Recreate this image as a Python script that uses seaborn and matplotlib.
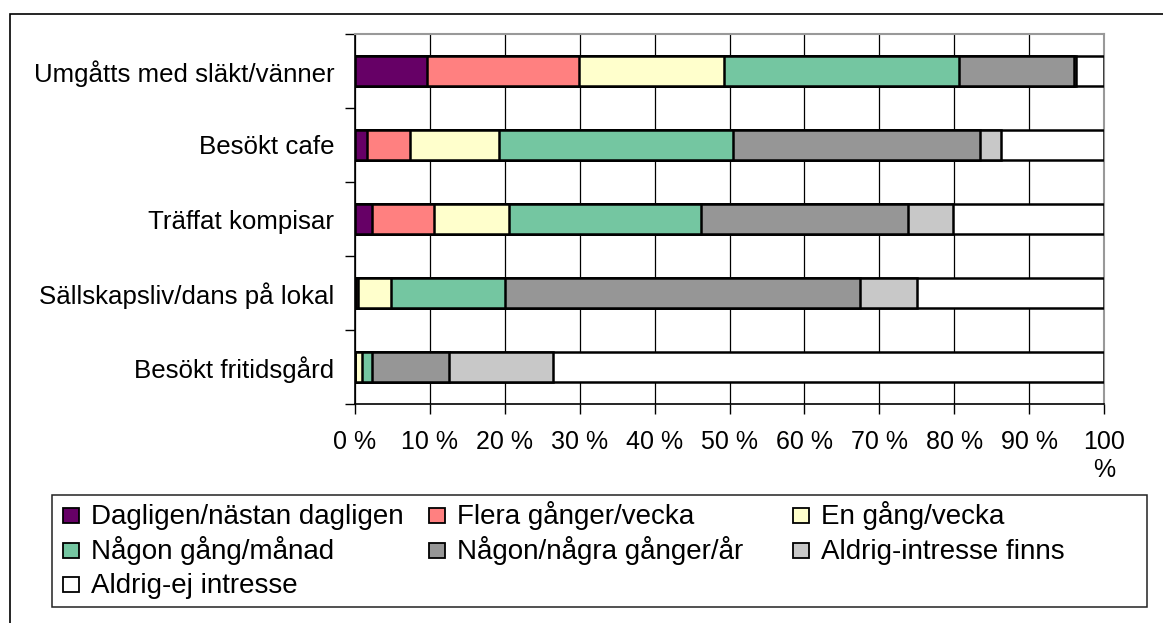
import matplotlib.pyplot as plt
import numpy as np
import pandas as pd
import seaborn as sns
from matplotlib.patches import Rectangle

# Data (percent of respondents)
activities = [
    "Umgåtts med släkt/vänner",
    "Besökt cafe",
    "Träffat kompisar",
    "Sällskapsliv/dans på lokal",
    "Besökt fritidsgård",
]
answers = [
    "Dagligen/nästan dagligen",
    "Flera gånger/vecka",
    "En gång/vecka",
    "Någon gång/månad",
    "Någon/några gånger/år",
    "Aldrig-intresse finns",
    "Aldrig-ej intresse",
]
dagligen = [9.6, 1.6, 2.3, 0.2, 0.0]
flera_vecka = [20.3, 5.8, 8.3, 0.2, 0.0]
en_vecka = [19.3, 11.8, 9.9, 4.4, 0.9]
gang_manad = [31.5, 31.3, 25.7, 15.2, 1.4]
gang_ar = [15.3, 32.9, 27.6, 47.4, 10.2]
aldrig_intresse = [0.2, 2.9, 6.1, 7.7, 13.9]
aldrig_ej = [3.8, 13.7, 20.1, 24.9, 73.6]

x_ticks = [0, 10, 20, 30, 40, 50, 60, 70, 80, 90, 100]
x_labels = ["0 %", "10 %", "20 %", "30 %", "40 %", "50 %", "60 %",
            "70 %", "80 %", "90 %", "100\n%"]

colors = ["#660066", "#FF8080", "#FFFFCC", "#74C6A1", "#969696", "#C8C8C8", "#FFFFFF"]

series = [dagligen, flera_vecka, en_vecka, gang_manad, gang_ar, aldrig_intresse, aldrig_ej]
df = pd.DataFrame(np.array(series).T, index=activities, columns=answers)
cum = df.cumsum(axis=1)
# normalise to 100 so the last segment ends on the axis edge
cum = cum.div(cum.iloc[:, -1], axis=0) * 100

W, H = 1163, 623
FS = 18

sns.set_theme(style="white")
plt.rcParams["font.family"] = ["Liberation Sans", "DejaVu Sans"]
plt.rcParams["font.size"] = FS
plt.rcParams["text.color"] = "black"

fig = plt.figure(figsize=(W / 100, H / 100), dpi=100)
ax = fig.add_axes([355 / W, 1 - 404 / H, (1104 - 355) / W, (404 - 34) / H])

# draw cumulative bars from the longest down, so each segment sits on top
for col, color in zip(reversed(answers), reversed(colors)):
    sns.barplot(x=cum[col].values, y=activities, orient="h", color=color,
                saturation=1, edgecolor="black", linewidth=1.8, width=0.41,
                ax=ax, zorder=3)

ax.set_xlim(0, 100)
ax.set_ylim(4.5, -0.5)
ax.set_xticks(x_ticks)
ax.set_xticklabels(x_labels, fontsize=FS)
ax.set_yticks(range(len(activities)))
ax.set_yticklabels(activities, fontsize=18.6)
ax.set_yticks(np.arange(-0.5, 5, 1.0), minor=True)
ax.tick_params(axis="y", which="major", length=0, pad=15, labelcolor="black")
ax.tick_params(axis="y", which="minor", left=True, length=7, width=1, color="black")
ax.tick_params(axis="x", which="major", bottom=True, length=7, width=1,
               color="black", pad=12, labelcolor="black")
ax.set_xlabel("")
ax.set_ylabel("")

ax.grid(axis="x", color="black", linewidth=0.9, zorder=0)
ax.grid(axis="y", visible=False)
ax.set_axisbelow(True)
for side in ["left", "bottom"]:
    ax.spines[side].set_color("black")
    ax.spines[side].set_linewidth(1.2)
for side in ["top", "right"]:
    ax.spines[side].set_color("#999999")
    ax.spines[side].set_linewidth(1.5)

# legend drawn as a fixed grid (3 equal columns, filled row by row)
LFS = 20
col_x = [63, 429, 793]
row_base = [524, 559, 593]
for k, (label, color) in enumerate(zip(answers, colors)):
    r, c = divmod(k, 3)
    x0, yb = col_x[c], row_base[r]
    fig.add_artist(Rectangle((x0 / W, 1 - (yb - 1) / H), 16 / W, 15 / H,
                             transform=fig.transFigure, facecolor=color,
                             edgecolor="black", linewidth=1.3))
    fig.text((x0 + 28) / W, 1 - yb / H, label, fontsize=LFS,
             ha="left", va="baseline")

fig.add_artist(Rectangle((52 / W, 1 - 607 / H), (1147 - 52) / W, (607 - 495) / H,
                         transform=fig.transFigure, fill=False,
                         edgecolor="#222222", linewidth=1.1))

# outer chart frame (only top and left edges are visible in the crop)
fig.add_artist(Rectangle((10 / W, -0.2), 1.2, 1.2 - 14 / H,
                         transform=fig.transFigure, fill=False,
                         edgecolor="black", linewidth=1.2))

fig.savefig("out.png", dpi=100)
